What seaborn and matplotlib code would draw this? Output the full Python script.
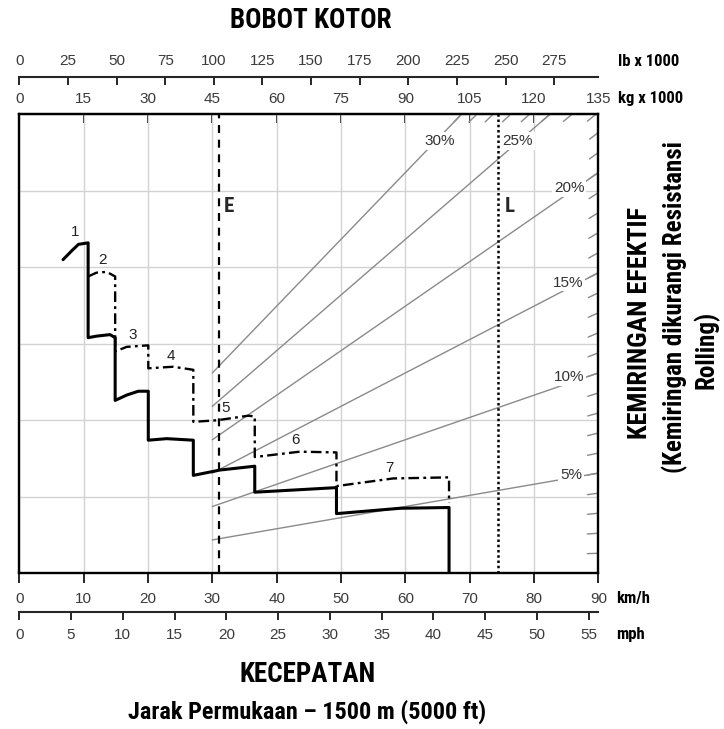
import matplotlib
matplotlib.use("Agg")
import matplotlib.pyplot as plt
import seaborn as sns
from matplotlib import font_manager as fm

# ---------------- scales ----------------
KMH_TICKS = list(range(0, 91, 10))
MPH_TICKS = list(range(0, 56, 5))
KG_TICKS = list(range(0, 136, 15))      # gross weight, kg x 1000
LB_TICKS = list(range(0, 276, 25))      # gross weight, lb x 1000
RIMPULL_GRID = [0, 5, 10, 15, 20, 25, 30]

KG_PER_KMH = 1.5          # weight scale shares the speed axis
LB_PER_KG = 2.20462
KMH_PER_MPH = 1.609344

# ---------------- rimpull curves (speed km/h, rimpull kg x 1000) ----------------
SOLID_KMH = [6.8, 8.2, 9.2, 10.7, 10.7, 12.0, 14.1, 14.9, 14.9, 16.7, 18.5, 20.05,
             20.05, 22.9, 27.05, 27.05, 31.2, 36.6, 36.6, 49.3, 49.3, 59.2, 66.8, 66.8]
SOLID_RIMPULL = [20.5, 21.1, 21.5, 21.6, 15.4, 15.5, 15.6, 15.4, 11.3, 11.65, 11.9, 11.9,
                 8.7, 8.8, 8.7, 6.4, 6.75, 7.0, 5.3, 5.6, 3.9, 4.25, 4.3, 0.0]

DASH_KMH = [10.7, 12.0, 13.6, 14.9, 14.9, 16.7, 20.05, 20.05, 23.9, 27.05, 27.05,
            30.7, 35.6, 36.6, 36.6, 43.6, 49.3, 49.3, 58.1, 66.8, 66.8]
DASH_RIMPULL = [19.4, 19.65, 19.7, 19.4, 14.5, 14.8, 14.9, 13.4, 13.5, 13.3, 9.9,
                10.0, 10.3, 10.25, 7.6, 7.95, 7.9, 5.7, 6.2, 6.27, 4.6]

GEARS = ["1", "2", "3", "4", "5", "6", "7"]
GEAR_LABEL_KMH = [8.7, 13.0, 17.7, 23.5, 32.0, 42.9, 57.6]
GEAR_LABEL_RIMPULL = [22.3, 20.5, 15.6, 14.2, 10.8, 8.7, 6.9]

# ---------------- effective grade lines ----------------
GRADES = [5, 10, 15, 20, 25, 30]
GRADE_LABELS = ["5%", "10%", "15%", "20%", "25%", "30%"]
GRADE_LABEL_KMH = [85.8, 85.5, 85.3, 85.5, 77.5, 65.4]
GRADE_LABEL_RIMPULL = [6.4, 12.85, 19.0, 25.2, 28.25, 28.25]
STUB_GRADES = list(range(1, 31))
RIMPULL_PER_T_PCT = 0.0097     # rimpull (kg x 1000) per tonne per % grade
GRADE_START_KG = 45

EMPTY_KG = 46.6
LOADED_KG = 111.6

# ---------------- fonts ----------------
names = {f.name for f in fm.fontManager.ttflist}
def first_font(*cands):
    for c in cands:
        if c in names:
            return c
    return "DejaVu Sans"

NARROW = first_font("Liberation Sans Narrow", "Roboto Condensed", "Open Sans Condensed",
                    "Liberation Sans")
REGULAR = first_font("Liberation Sans", "Arimo", "DejaVu Sans")

sns.set_style("white")
plt.rcParams["font.family"] = [REGULAR, "DejaVu Sans"]

W, H = 724, 729
fig = plt.figure(figsize=(W / 100, H / 100), dpi=100)
fig.patch.set_facecolor("white")

L_PX, R_PX, T_PX, B_PX = 19.3, 598.3, 114.3, 573.3
ax = fig.add_axes([L_PX / W, 1 - B_PX / H, (R_PX - L_PX) / W, (B_PX - T_PX) / H])
ax.set_xlim(0, 90)
ax.set_ylim(0, 30)

TICK_COLOR = "#3a3a3a"
GRID_COLOR = "#d2d2d2"

# grid
ax.set_xticks(KMH_TICKS)
ax.set_yticks(RIMPULL_GRID)
ax.set_yticklabels([])
ax.tick_params(axis="y", length=0)
ax.grid(True, color=GRID_COLOR, lw=1.0)
ax.set_axisbelow(True)
for s in ax.spines.values():
    s.set_linewidth(1.7)
    s.set_color("black")

# km/h scale on bottom border
ax.tick_params(axis="x", direction="out", length=7.2, width=1.4, pad=6.0,
               labelsize=11, labelcolor=TICK_COLOR, bottom=True, top=False)

def kmh_to_kg(v):
    return v * KG_PER_KMH
def kg_to_kmh(v):
    return v / KG_PER_KMH
def kmh_to_lb(v):
    return v * KG_PER_KMH * LB_PER_KG
def lb_to_kmh(v):
    return v / (KG_PER_KMH * LB_PER_KG)
def kmh_to_mph(v):
    return v / KMH_PER_MPH
def mph_to_kmh(v):
    return v * KMH_PER_MPH

axis_h = B_PX - T_PX
kg_ax = ax.secondary_xaxis("top", functions=(kmh_to_kg, kg_to_kmh))
kg_ax.set_xticks(KG_TICKS)
kg_ax.tick_params(direction="in", length=6.5, width=1.4, pad=6.3,
                  labelsize=11, labelcolor=TICK_COLOR)

lb_ax = ax.secondary_xaxis(1 + (T_PX - 77) / axis_h, functions=(kmh_to_lb, lb_to_kmh))
lb_ax.set_xticks(LB_TICKS)
lb_ax.tick_params(direction="in", length=5.8, width=1.4, pad=6.3,
                  labelsize=11, labelcolor=TICK_COLOR)

mph_ax = ax.secondary_xaxis(-(612 - B_PX) / axis_h, functions=(kmh_to_mph, mph_to_kmh))
mph_ax.set_xticks(MPH_TICKS)
mph_ax.tick_params(direction="out", length=5.8, width=1.4, pad=5.5,
                   labelsize=11, labelcolor=TICK_COLOR)
for sec in (kg_ax, lb_ax, mph_ax):
    for s in sec.spines.values():
        s.set_linewidth(1.5)

# grade lines from the empty-weight region out to the chart border
def border_weight(g):
    return min(135.0, 30.0 / (RIMPULL_PER_T_PCT * g))

for g in GRADES:
    wts = [GRADE_START_KG, border_weight(g)]
    sns.lineplot(x=[kg_to_kmh(w) for w in wts],
                 y=[RIMPULL_PER_T_PCT * g * w for w in wts],
                 sort=False, estimator=None, color="#8a8a8a", lw=1.0, ax=ax, zorder=2)

# short grade stubs along right and top border
fig.canvas.draw()
to_disp = ax.transData
to_data = ax.transData.inverted()
STUB_PX = 11
for g in STUB_GRADES:
    w_end = border_weight(g)
    p1 = to_disp.transform((kg_to_kmh(w_end), RIMPULL_PER_T_PCT * g * w_end))
    p0 = to_disp.transform((0, 0))
    d = (p1 - p0) / ((p1 - p0) ** 2).sum() ** 0.5
    q = to_data.transform(p1 - d * STUB_PX)
    e = to_data.transform(p1)
    sns.lineplot(x=[q[0], e[0]], y=[q[1], e[1]], sort=False, estimator=None,
                 color="#8a8a8a", lw=1.0, ax=ax, zorder=2)

for lab, xk, yr in zip(GRADE_LABELS, GRADE_LABEL_KMH, GRADE_LABEL_RIMPULL):
    ax.text(xk, yr, lab, ha="center", va="center", fontsize=11, color="#333333",
            bbox=dict(boxstyle="square,pad=0.12", fc="white", ec="none"), zorder=3)

# empty / loaded weight markers
ax.axvline(kg_to_kmh(EMPTY_KG), color="black", lw=1.6, ls=(0, (3.6, 3.0)), zorder=4)
ax.axvline(kg_to_kmh(LOADED_KG), color="black", lw=1.8, ls=(0, (1.0, 1.1)), zorder=4)
ax.text(kg_to_kmh(EMPTY_KG) + 0.75, 24.0, "E", ha="left", va="center",
        fontsize=15, fontweight="bold", family=[NARROW, "DejaVu Sans"])
ax.text(kg_to_kmh(LOADED_KG) + 1.0, 24.0, "L", ha="left", va="center",
        fontsize=15, fontweight="bold", family=[NARROW, "DejaVu Sans"])

# rimpull curves
sns.lineplot(x=DASH_KMH, y=DASH_RIMPULL, sort=False, estimator=None, color="black",
             lw=1.7, linestyle=(0, (4.5, 1.8, 1.2, 1.8)), ax=ax, zorder=5)
sns.lineplot(x=SOLID_KMH, y=SOLID_RIMPULL, sort=False, estimator=None, color="black",
             lw=2.2, ax=ax, zorder=6)
for lab, xk, yr in zip(GEARS, GEAR_LABEL_KMH, GEAR_LABEL_RIMPULL):
    ax.text(xk, yr, lab, ha="center", va="center", fontsize=11, color="#222222", zorder=7)

ax.set_xlabel("")
ax.set_ylabel("")

# titles and unit labels
bold = dict(fontweight="bold", family=[NARROW, "DejaVu Sans"], color="black")
def ftext(xp, yp, s, **kw):
    fig.text(xp / W, 1 - yp / H, s, **kw)

ftext(311, 20.5, "BOBOT KOTOR", ha="center", va="center", fontsize=19.5, **bold)
ftext(618, 62, "lb x 1000", ha="left", va="center", fontsize=12, **bold)
ftext(618, 99, "kg x 1000", ha="left", va="center", fontsize=12, **bold)
ftext(616, 598, "km/h", ha="left", va="center", fontsize=12, **bold)
ftext(616, 634, "mph", ha="left", va="center", fontsize=12, **bold)
ftext(308, 675, "KECEPATAN", ha="center", va="center", fontsize=19.5, **bold)
ftext(307, 712, "Jarak Permukaan – 1500 m (5000 ft)", ha="center", va="center",
      fontsize=17.5, **bold)
ftext(640, 323, "KEMIRINGAN EFEKTIF", ha="center", va="center", rotation=90,
      fontsize=19, **bold)
ftext(674.5, 307, "(Kemiringan dikurangi Resistansi", ha="center", va="center",
      rotation=90, fontsize=18, **bold)
ftext(706, 350, "Rolling)", ha="center", va="center", rotation=90, fontsize=18, **bold)

fig.savefig("out.png", dpi=100, facecolor="white")
